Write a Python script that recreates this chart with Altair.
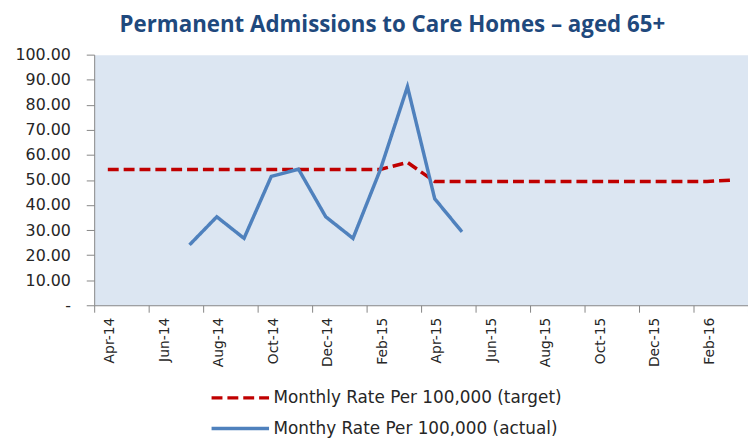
import altair as alt
import pandas as pd

months = ["Apr-14", "May-14", "Jun-14", "Jul-14", "Aug-14", "Sep-14", "Oct-14", "Nov-14",
          "Dec-14", "Jan-15", "Feb-15", "Mar-15", "Apr-15", "May-15", "Jun-15", "Jul-15",
          "Aug-15", "Sep-15", "Oct-15", "Nov-15", "Dec-15", "Jan-16", "Feb-16", "Mar-16"]

target = [54.2, 54.2, 54.2, 54.2, 54.2, 54.2, 54.2, 54.2, 54.2, 54.2, 54.2, 57.0,
          49.4, 49.4, 49.4, 49.4, 49.4, 49.4, 49.4, 49.4, 49.4, 49.4, 49.4, 50.0]

actual_months = ["Jul-14", "Aug-14", "Sep-14", "Oct-14", "Nov-14", "Dec-14",
                 "Jan-15", "Feb-15", "Mar-15", "Apr-15", "May-15"]
actual = [24.1, 35.3, 26.7, 51.4, 54.3, 35.3, 26.7, 54.0, 87.2, 42.5, 29.3]

s_target = "Monthly Rate Per 100,000 (target)"
s_actual = "Monthy Rate Per 100,000 (actual)"

rows = []
for m, v in zip(months, target):
    rows.append({"month": m, "idx": months.index(m), "value": v, "series": s_target})
for m, v in zip(actual_months, actual):
    rows.append({"month": m, "idx": months.index(m), "value": v, "series": s_actual})
df = pd.DataFrame(rows)

n = len(months)
tick_vals = [i - 0.5 for i in range(0, n + 1, 2)]
month_arr = "[" + ",".join("'" + m + "'" for m in months) + "]"
label_expr = f"({month_arr})[round(datum.value + 0.5)] || ''"

legend_kw = dict(title=None, orient="none", legendX=136, legendY=335,
                 direction="vertical", symbolType="M-3,0H3",
                 symbolSize=374, symbolStrokeWidth=4,
                 labelFontSize=17, labelFont="DejaVu Sans", labelLimit=0,
                 labelColor="#262626", rowPadding=11, padding=0, labelOffset=22)

chart = alt.Chart(df).mark_line().encode(
    x=alt.X("idx:Q",
            scale=alt.Scale(domain=[-0.5, n - 0.5], nice=False, zero=False),
            axis=alt.Axis(values=tick_vals, labelExpr=label_expr, labelAngle=-90,
                          labelOffset=16, labelPadding=5, tickSize=7, grid=False,
                          title=None, labelFontSize=14, labelFont="DejaVu Sans",
                          labelColor="#262626", domainColor="#868686", tickColor="#868686",
                          labelOverlap=False, labelBound=False)),
    y=alt.Y("value:Q",
            scale=alt.Scale(domain=[0, 100], nice=False),
            axis=alt.Axis(values=list(range(0, 101, 10)),
                          labelExpr="datum.value == 0 ? '-' : format(datum.value, '.2f')",
                          tickSize=8, labelPadding=16, grid=False, title=None,
                          labelFontSize=16, labelFont="DejaVu Sans", labelColor="#262626",
                          domainColor="#868686", tickColor="#868686")),
    color=alt.Color("series:N",
                    scale=alt.Scale(domain=[s_target, s_actual], range=["#C00000", "#4F81BD"]),
                    legend=alt.Legend(**legend_kw)),
    strokeDash=alt.StrokeDash("series:N",
                              scale=alt.Scale(domain=[s_target, s_actual], range=[[11, 5], [1, 0]]),
                              legend=alt.Legend(**legend_kw)),
    detail="series:N",
).properties(
    width=660,
    height=253,
    title=alt.TitleParams("Permanent Admissions to Care Homes \u2013 aged 65+",
                          font="Open Sans", fontSize=22.5, fontWeight="bold", color="#1F497D",
                          anchor="middle", dx=-29, offset=10),
    padding={"left": 87, "top": 45, "right": 0, "bottom": 140},
    autosize=alt.AutoSizeParams(type="none"),
).configure_view(fill="#DCE6F2", stroke="transparent").configure_line(strokeWidth=3.5)

chart.save("out.html", embed_options={"renderer": "svg", "actions": False})
